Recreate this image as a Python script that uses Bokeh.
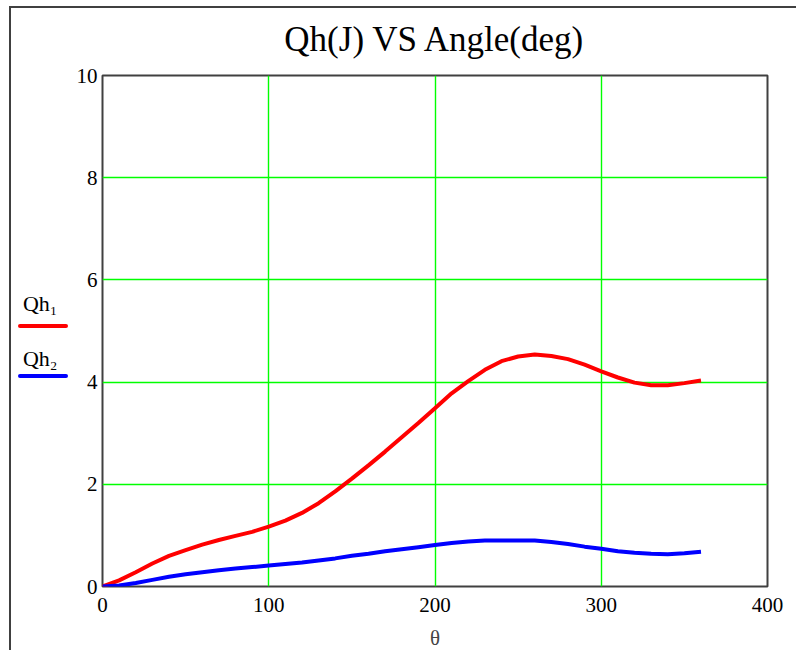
from bokeh.plotting import figure
from bokeh.models import Range1d, FixedTicker
from bokeh.embed import file_html
from bokeh.resources import INLINE

# ---- data ----
theta = [0, 10, 20, 30, 40, 50, 60, 70, 80, 90,
         100, 110, 120, 130, 140, 150, 160, 170, 180, 190,
         200, 210, 220, 230, 240, 250, 260, 270, 280, 290,
         300, 310, 320, 330, 340, 350, 360]
qh1 = [0.00, 0.12, 0.28, 0.45, 0.60, 0.71, 0.82, 0.91, 0.99, 1.07,
       1.17, 1.29, 1.44, 1.63, 1.86, 2.11, 2.37, 2.64, 2.92, 3.20,
       3.49, 3.78, 4.02, 4.24, 4.41, 4.50, 4.54, 4.51, 4.45, 4.34,
       4.21, 4.09, 3.99, 3.94, 3.94, 3.98, 4.03]
qh2 = [0.00, 0.02, 0.07, 0.13, 0.19, 0.24, 0.28, 0.32, 0.35, 0.38,
       0.41, 0.44, 0.47, 0.51, 0.55, 0.60, 0.64, 0.69, 0.73, 0.77,
       0.81, 0.85, 0.88, 0.90, 0.90, 0.90, 0.90, 0.87, 0.83, 0.78,
       0.74, 0.69, 0.66, 0.64, 0.63, 0.65, 0.68]
x_ticks = [0, 100, 200, 300, 400]
y_ticks = [0, 2, 4, 6, 8, 10]
title_text = "Qh(J) VS Angle(deg)"
x_label = "θ"
y_labels = ["Qh₁", "Qh₂"]
series_colors = ["#ff0000", "#0000ff"]

SERIF = "Liberation Serif"
FRAME = "#404040"

p = figure(width=798, height=652,
           x_range=Range1d(0, 400), y_range=Range1d(0, 10),
           output_backend="svg", toolbar_location=None,
           min_border_left=102, min_border_right=31,
           min_border_top=75, min_border_bottom=65,
           title=title_text)

p.title.text_font = SERIF
p.title.text_font_size = "35px"
p.title.text_font_style = "normal"
p.title.align = "center"
p.title.text_color = "#000000"
p.title.standoff = 33

p.outline_line_color = FRAME
p.outline_line_width = 2
p.background_fill_color = "white"
p.border_fill_color = "white"

for ax, ticks in ((p.xaxis, x_ticks), (p.yaxis, y_ticks)):
    ax.ticker = FixedTicker(ticks=ticks)
    ax.axis_line_color = None
    ax.major_tick_line_color = None
    ax.minor_tick_line_color = None
    ax.major_tick_in = 0
    ax.major_tick_out = 0
    ax.major_label_text_font = SERIF
    ax.major_label_text_font_size = "21px"
    ax.major_label_text_color = "#000000"

p.yaxis.major_label_standoff = 5
p.xaxis.major_label_standoff = 11
p.xaxis.axis_label = x_label
p.xaxis.axis_label_text_font = SERIF
p.xaxis.axis_label_text_font_size = "21px"
p.xaxis.axis_label_text_font_style = "normal"
p.xaxis.axis_label_standoff = 11

# Mathcad shows the plotted expressions (with their line styles) as the y-axis label
p.yaxis.axis_label = "\n".join(y_labels)
p.yaxis.axis_label_orientation = "horizontal"
p.yaxis.axis_label_text_font = SERIF
p.yaxis.axis_label_text_font_size = "22px"
p.yaxis.axis_label_text_font_style = "normal"
p.yaxis.axis_label_text_color = "#000000"
p.yaxis.axis_label_text_line_height = 2.2
p.yaxis.axis_label_standoff = 16

p.xgrid.ticker = FixedTicker(ticks=x_ticks)
p.ygrid.ticker = FixedTicker(ticks=y_ticks)
for g in (p.xgrid, p.ygrid):
    g.grid_line_color = "#00ff00"
    g.grid_line_width = 1.4
    g.grid_line_alpha = 1.0

p.line(theta, qh1, line_color=series_colors[0], line_width=4)
p.line(theta, qh2, line_color=series_colors[1], line_width=4)

# outer region border (top/left) and the line-style samples under the y labels
css = """
:host::before {
  content: ""; position: absolute; left: 9px; top: 6px;
  width: 787px; height: 644px; box-sizing: border-box;
  border-left: 2px solid %s; border-top: 2px solid %s;
  pointer-events: none; z-index: 100;
}
:host::after {
  content: ""; position: absolute; left: 18px; top: 324px;
  width: 50px; height: 4px; border-radius: 2px;
  background: %s; box-shadow: 0 50px 0 0 %s;
  pointer-events: none; z-index: 100;
}
""" % (FRAME, FRAME, series_colors[0], series_colors[1])
p.stylesheets = [css]

open("out.html", "w").write(file_html(p, INLINE))
